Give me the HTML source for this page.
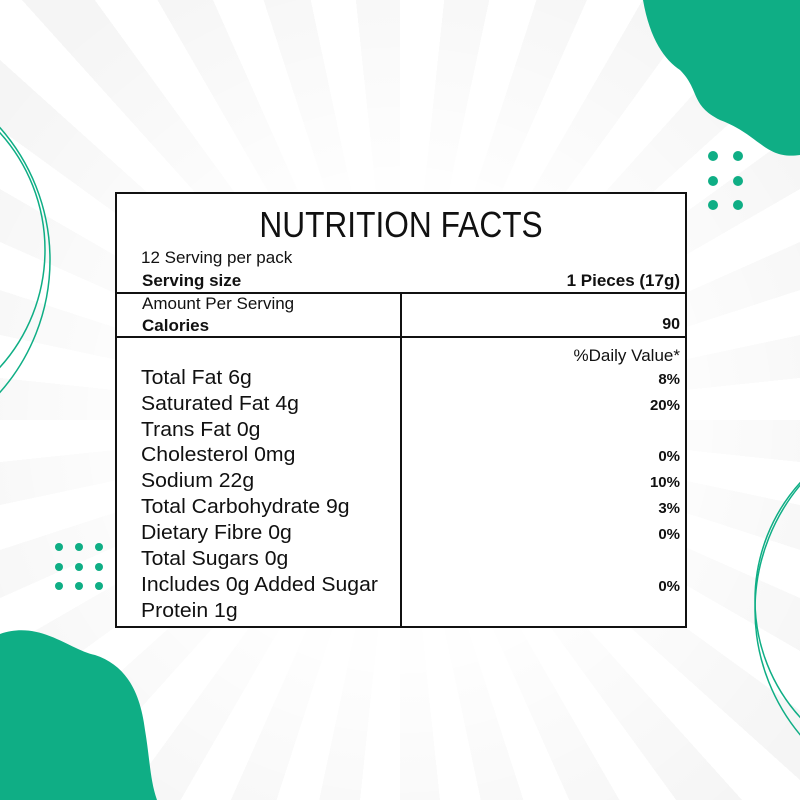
<!DOCTYPE html>
<html><head><meta charset="utf-8"><style>
html,body{margin:0;padding:0}
body{width:800px;height:800px;position:relative;overflow:hidden;font-family:"Liberation Sans",sans-serif;color:#111;
background:radial-gradient(circle at 400px 420px,rgba(255,255,255,1) 0,rgba(255,255,255,0.9) 250px,rgba(255,255,255,0.3) 500px),repeating-conic-gradient(from 0deg at 400px 420px,#ffffff 0deg 6deg,#f1f1f1 6deg 12deg);}
svg.bg{position:absolute;left:0;top:0}
.box{position:absolute;left:115px;top:192px;width:568px;height:432px;border:2px solid #111;background:#fff}
.t{position:absolute;white-space:nowrap;line-height:1}
.hl{position:absolute;left:0;width:568px;height:2px;background:#111}
.vl{position:absolute;left:283px;top:100px;width:2px;height:332px;background:#111}
.r{font-size:20px;left:24px;transform:scaleX(1.06);transform-origin:left}
.v{font-size:15px;font-weight:bold;right:5px}
</style></head><body>
<svg class="bg" width="800" height="800">
<path d="M643 0 C650 40 665 60 680 70 C700 90 690 105 720 120 C760 135 765 160 800 155 L800 0 Z" fill="#0fae85"/>
<path d="M0 634 C40 620 70 650 95 655 C125 665 140 690 145 730 C150 760 150 780 157 800 L0 800 Z" fill="#0fae85"/>
<g fill="#0fae85">
<circle cx="713" cy="156" r="5"/><circle cx="738" cy="156" r="5"/>
<circle cx="713" cy="181" r="5"/><circle cx="738" cy="181" r="5"/>
<circle cx="713" cy="205" r="5"/><circle cx="738" cy="205" r="5"/>
<circle cx="59" cy="547" r="4"/><circle cx="79" cy="547" r="4"/><circle cx="99" cy="547" r="4"/>
<circle cx="59" cy="567" r="4"/><circle cx="79" cy="567" r="4"/><circle cx="99" cy="567" r="4"/>
<circle cx="59" cy="586" r="4"/><circle cx="79" cy="586" r="4"/><circle cx="99" cy="586" r="4"/>
</g>
<g fill="none" stroke="#0fae85" stroke-width="1.5">
<circle cx="-130" cy="250" r="175"/>
<circle cx="-150" cy="260" r="200"/>
<circle cx="930" cy="600" r="175"/>
<circle cx="950" cy="610" r="195"/>
</g>
</svg>
<div class="box">
<div class="t" style="left:0;width:568px;text-align:center;top:13px;font-size:36px;transform:scaleX(0.88)">NUTRITION FACTS</div>
<div class="t" style="left:24px;top:55px;font-size:17px">12 Serving per pack</div>
<div class="t" style="left:25px;top:78px;font-size:17px;font-weight:bold">Serving size</div>
<div class="t" style="right:5px;top:78px;font-size:17px;font-weight:bold">1 Pieces (17g)</div>
<div class="hl" style="top:98px"></div>
<div class="t" style="left:25px;top:101px;font-size:17px">Amount Per Serving</div>
<div class="t" style="left:25px;top:123px;font-size:17px;font-weight:bold">Calories</div>
<div class="t" style="right:5px;top:123px;font-size:16px;font-weight:bold">90</div>
<div class="hl" style="top:142px"></div>
<div class="vl"></div>
<div class="t" style="right:5px;top:153px;font-size:17px">%Daily Value*</div>
<div class="t r" style="top:174px">Total Fat 6g</div><div class="t v" style="top:178px">8%</div>
<div class="t r" style="top:200px">Saturated Fat 4g</div><div class="t v" style="top:204px">20%</div>
<div class="t r" style="top:226px">Trans Fat 0g</div>
<div class="t r" style="top:251px">Cholesterol 0mg</div><div class="t v" style="top:255px">0%</div>
<div class="t r" style="top:277px">Sodium 22g</div><div class="t v" style="top:281px">10%</div>
<div class="t r" style="top:303px">Total Carbohydrate 9g</div><div class="t v" style="top:307px">3%</div>
<div class="t r" style="top:329px">Dietary Fibre 0g</div><div class="t v" style="top:333px">0%</div>
<div class="t r" style="top:355px">Total Sugars 0g</div>
<div class="t r" style="top:381px">Includes 0g Added Sugar</div><div class="t v" style="top:385px">0%</div>
<div class="t r" style="top:407px">Protein 1g</div>
</div>
</body></html>
